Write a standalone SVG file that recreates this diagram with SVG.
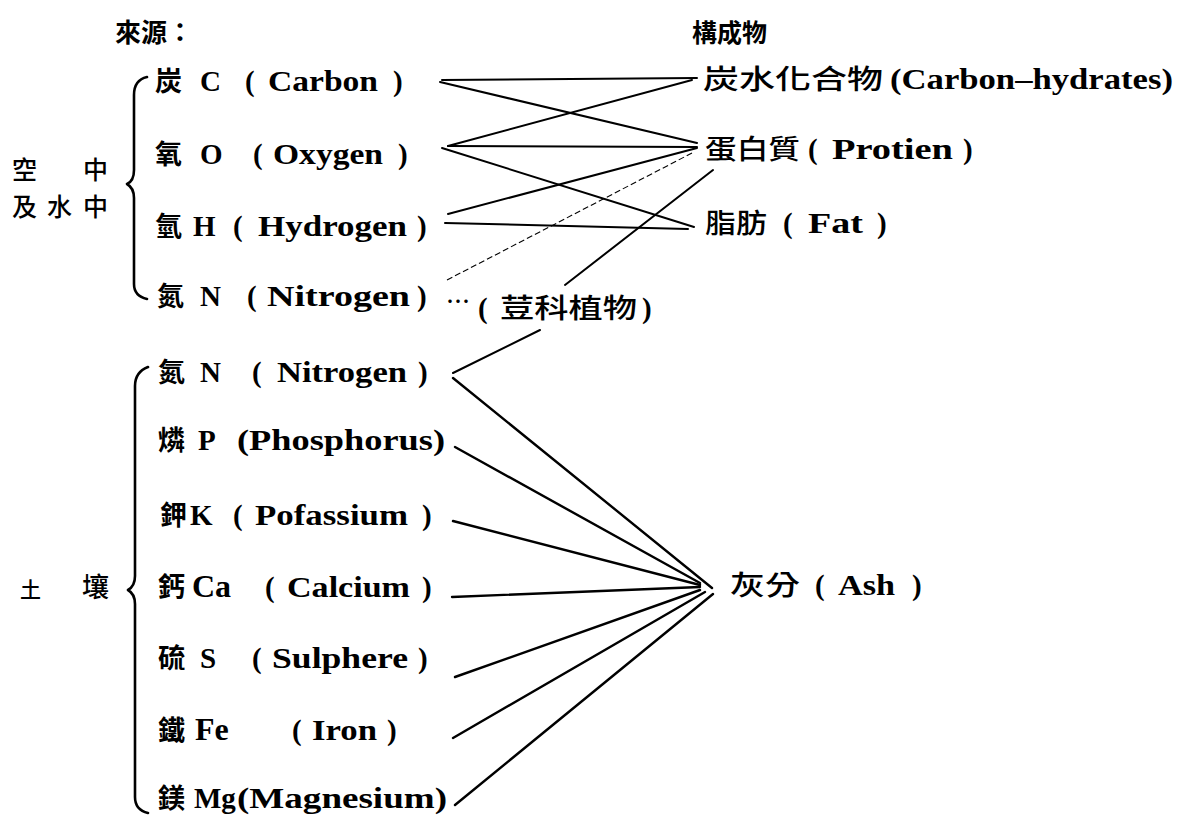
<svg xmlns="http://www.w3.org/2000/svg" width="1186" height="820" viewBox="0 0 1186 820">
<style>
.bg{fill:#fff}
.cj{font-family:"Noto Sans CJK TC","Noto Sans CJK SC",sans-serif;font-weight:700;font-size:27px;fill:#000}
.cjr{font-family:"Noto Sans CJK TC","Noto Sans CJK SC",sans-serif;font-weight:500;font-size:27px;fill:#000}
.la{font-family:"Liberation Serif",serif;font-weight:700;font-size:29px;fill:#000}
.big{font-size:32px}
.ln{stroke:#000;stroke-width:2;fill:none;stroke-linecap:round}
.lt{stroke:#000;stroke-width:1.1;fill:none;stroke-dasharray:6 3}
.la2{stroke:#000;stroke-width:2.4;fill:none;stroke-linecap:round}
.br{stroke:#000;stroke-width:2.6;fill:none;stroke-linecap:round;stroke-linejoin:round}
</style>
<rect class="bg" x="0" y="0" width="1186" height="820"/>

<g id="headers">
<text class="cj" x="115" y="42" style="font-size:26px">來源：</text>
<text class="cj" x="692" y="42" style="font-size:25px">構成物</text>
</g>

<g id="group-air">
<text class="cjr" style="font-size:25px" y="179"><tspan x="12">空</tspan> <tspan x="83">中</tspan></text>
<text class="cjr" style="font-size:25px" y="216"><tspan x="12">及</tspan><tspan x="47">水</tspan><tspan x="83">中</tspan></text>
<path class="br" d="M147,77 Q134,80 134,95 L134,170 Q134,181 127,184 Q134,188 134,198 L134,284 Q134,296 147,299"/>
</g>

<g id="group-soil">
<text class="cjr" y="597"><tspan x="20" style="font-size:21px">土</tspan> <tspan x="82">壤</tspan></text>
<path class="br" d="M148,367 Q135,372 135,386 L135,576 Q135,586 128,590 Q135,594 135,604 L135,797 Q135,810 148,813"/>
</g>

<g id="src-carbon">
<text y="91"><tspan class="cj" x="155">炭 </tspan><tspan class="la" x="200">C </tspan><tspan class="la" x="245">( </tspan><tspan class="la" x="268" textLength="110" lengthAdjust="spacingAndGlyphs">Carbon</tspan> <tspan class="la" x="393">)</tspan></text>
</g>
<g id="src-oxygen">
<text y="164"><tspan class="cj" x="155">氧 </tspan><tspan class="la" x="200">O </tspan><tspan class="la" x="253">( </tspan><tspan class="la" x="273" textLength="110" lengthAdjust="spacingAndGlyphs">Oxygen</tspan> <tspan class="la" x="398">)</tspan></text>
</g>
<g id="src-hydrogen">
<text y="236"><tspan class="cj" x="155">氫</tspan><tspan class="la" x="193">H </tspan><tspan class="la" x="233">( </tspan><tspan class="la" x="258" textLength="149" lengthAdjust="spacingAndGlyphs">Hydrogen</tspan> <tspan class="la" x="417">)</tspan></text>
</g>
<g id="src-nitrogen-air">
<text y="306"><tspan class="cj" x="157">氮 </tspan><tspan class="la" x="200">N </tspan><tspan class="la" x="247">( </tspan><tspan class="la" x="267" textLength="143" lengthAdjust="spacingAndGlyphs">Nitrogen</tspan> <tspan class="la" x="417">)</tspan></text>
</g>
<g id="legume">
<text y="318"><tspan class="cjr" x="446" y="310" style="font-size:24px">…</tspan><tspan class="la" x="478" y="318">(</tspan><tspan class="cjr" x="500" textLength="137" lengthAdjust="spacingAndGlyphs">荳科植物</tspan><tspan class="la" x="642">)</tspan></text>
</g>

<g id="src-nitrogen-soil">
<text y="382"><tspan class="cj" x="158">氮 </tspan><tspan class="la" x="200">N </tspan><tspan class="la" x="252">( </tspan><tspan class="la" x="277" textLength="130" lengthAdjust="spacingAndGlyphs">Nitrogen</tspan> <tspan class="la" x="418">)</tspan></text>
</g>
<g id="src-phosphorus">
<text y="450"><tspan class="cj" x="158">燐 </tspan><tspan class="la" x="198">P </tspan><tspan class="la" x="237" textLength="208" lengthAdjust="spacingAndGlyphs">(Phosphorus)</tspan></text>
</g>
<g id="src-potassium">
<text y="525"><tspan class="cj" x="160">鉀</tspan><tspan class="la" x="190">K </tspan><tspan class="la" x="233">( </tspan><tspan class="la" x="255" textLength="153" lengthAdjust="spacingAndGlyphs">Pofassium</tspan> <tspan class="la" x="422">)</tspan></text>
</g>
<g id="src-calcium">
<text y="597"><tspan class="cj" x="158">鈣</tspan><tspan class="la big" x="192">Ca </tspan><tspan class="la" x="265">( </tspan><tspan class="la" x="287" textLength="123" lengthAdjust="spacingAndGlyphs">Calcium</tspan> <tspan class="la" x="422">)</tspan></text>
</g>
<g id="src-sulphur">
<text y="668"><tspan class="cj" x="158">硫 </tspan><tspan class="la" x="200">S </tspan><tspan class="la" x="252">( </tspan><tspan class="la" x="272" textLength="136" lengthAdjust="spacingAndGlyphs">Sulphere</tspan> <tspan class="la" x="418">)</tspan></text>
</g>
<g id="src-iron">
<text y="740"><tspan class="cj" x="158">鐵 </tspan><tspan class="la big" x="195">Fe </tspan><tspan class="la" x="292">( </tspan><tspan class="la" x="312" textLength="65" lengthAdjust="spacingAndGlyphs">Iron</tspan> <tspan class="la" x="387">)</tspan></text>
</g>
<g id="src-magnesium">
<text y="808"><tspan class="cj" x="158">鎂 </tspan><tspan class="la" x="194">Mg</tspan><tspan class="la" x="237" textLength="210" lengthAdjust="spacingAndGlyphs">(Magnesium)</tspan></text>
</g>

<g id="out-carbohydrates">
<text y="89"><tspan class="cjr" x="703" textLength="180" lengthAdjust="spacingAndGlyphs">炭水化合物</tspan> <tspan class="la" x="890" textLength="283" lengthAdjust="spacingAndGlyphs">(Carbon–hydrates)</tspan></text>
</g>
<g id="out-protein">
<text y="159"><tspan class="cjr" x="705" textLength="95" lengthAdjust="spacingAndGlyphs">蛋白質</tspan> <tspan class="la" x="808">( </tspan><tspan class="la" x="832" textLength="121" lengthAdjust="spacingAndGlyphs">Protien</tspan> <tspan class="la" x="963">)</tspan></text>
</g>
<g id="out-fat">
<text y="233"><tspan class="cjr" x="705" textLength="62" lengthAdjust="spacingAndGlyphs">脂肪</tspan> <tspan class="la" x="783">( </tspan><tspan class="la" x="808" textLength="55" lengthAdjust="spacingAndGlyphs">Fat</tspan> <tspan class="la" x="877">)</tspan></text>
</g>
<g id="out-ash">
<text y="595"><tspan class="cjr" x="730" textLength="70" lengthAdjust="spacingAndGlyphs">灰分</tspan> <tspan class="la" x="815">( </tspan><tspan class="la" x="838" textLength="57" lengthAdjust="spacingAndGlyphs">Ash</tspan> <tspan class="la" x="912">)</tspan></text>
</g>

<g id="connectors">
<line class="ln" x1="442" y1="80" x2="697" y2="78"/>
<line class="ln" x1="440" y1="82" x2="697" y2="143"/>
<line class="ln" x1="448" y1="146" x2="692" y2="80"/>
<line class="ln" x1="448" y1="146" x2="697" y2="147"/>
<line class="ln" x1="442" y1="148" x2="694" y2="227"/>
<line class="ln" x1="448" y1="214" x2="697" y2="148"/>
<line class="ln" x1="445" y1="223" x2="688" y2="229"/>
<line class="lt" x1="447" y1="280" x2="692" y2="153"/>
<line class="ln" x1="565" y1="285" x2="713" y2="170"/>
<line class="ln" x1="453" y1="373" x2="540" y2="330"/>
<line class="la2" x1="453" y1="378" x2="712" y2="588"/>
<line class="la2" x1="455" y1="447" x2="700" y2="583"/>
<line class="la2" x1="453" y1="521" x2="700" y2="585"/>
<line class="la2" x1="452" y1="597" x2="700" y2="587"/>
<line class="la2" x1="455" y1="677" x2="700" y2="590"/>
<line class="la2" x1="453" y1="738" x2="705" y2="592"/>
<line class="la2" x1="455" y1="805" x2="713" y2="594"/>
</g>
</svg>
